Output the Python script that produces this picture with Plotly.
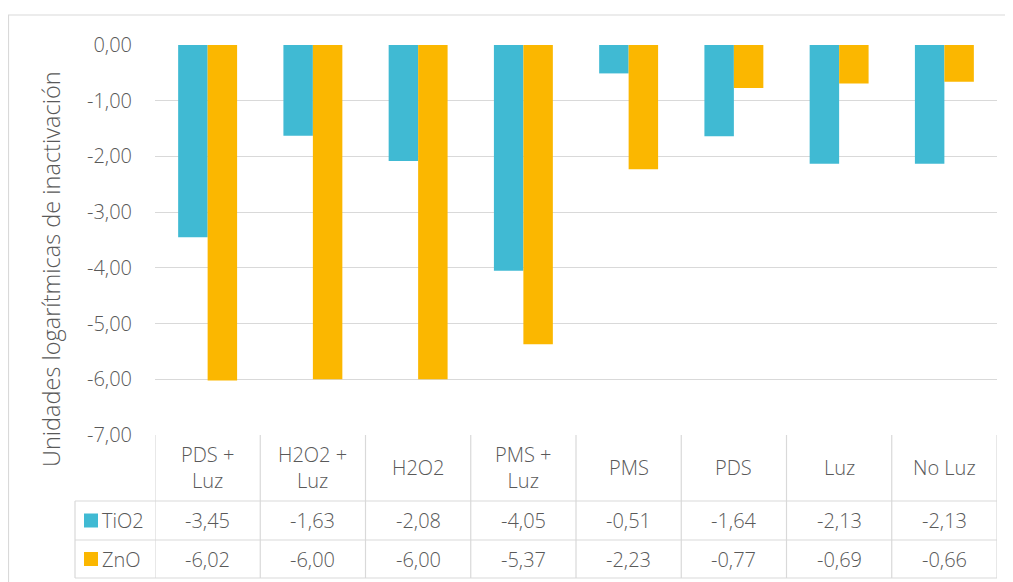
import plotly.graph_objects as go

categories = ["PDS + Luz", "H2O2 + Luz", "H2O2", "PMS + Luz", "PMS", "PDS", "Luz", "No Luz"]
header_labels = ["PDS +<br>Luz", "H2O2 +<br>Luz", "H2O2", "PMS +<br>Luz", "PMS", "PDS", "Luz", "No Luz"]
tio2 = [-3.45, -1.63, -2.08, -4.05, -0.51, -1.64, -2.13, -2.13]
zno = [-6.02, -6.00, -6.00, -5.37, -2.23, -0.77, -0.69, -0.66]
series_names = ["TiO2", "ZnO"]
series_colors = ["#40BAD3", "#FBB700"]
y_ticks = [0, -1, -2, -3, -4, -5, -6, -7]

# page body has an 8px margin, so figure coords = screen coords - 8
OFF = 8
W, H = 1013 - OFF, 582 - OFF
L = 155 - OFF
T = 45 - OFF
R = W - (997 - OFF)
B = H - (435 - OFF)
PW, PH = W - L - R, H - T - B

def px(x):
    return (x - OFF - L) / PW

def py(y):
    return (H - B - (y - OFF)) / PH

TXT = "#595959"
GRID = "#D9D9D9"
FONT = "Open Sans"
FS = 20

fig = go.Figure()
idx = list(range(len(categories)))
for name, vals, col in zip(series_names, [tio2, zno], series_colors):
    fig.add_trace(go.Bar(x=idx, y=vals, name=name, marker=dict(color=col, line=dict(width=0)),
                         hovertext=categories))

def fmt(v):
    return f"{v:.2f}".replace(".", ",")

def tfont(size=FS):
    return dict(family=FONT, size=size, color=TXT, weight=300)

shapes = []
annotations = []

# outer chart border
shapes.append(dict(type="rect", xref="paper", yref="paper", x0=px(8.5), x1=px(1030), y0=py(15), y1=py(600),
                   line=dict(color=GRID, width=1.2), layer="below"))

# horizontal table lines
for yy in [501, 540, 578]:
    shapes.append(dict(type="line", xref="paper", yref="paper", x0=px(75), x1=1, y0=py(yy), y1=py(yy),
                       line=dict(color=GRID, width=1.2)))
# vertical lines at category boundaries
for i in range(len(categories) + 1):
    shapes.append(dict(type="line", xref="x", yref="paper", x0=i - 0.5, x1=i - 0.5, y0=0, y1=py(578),
                       line=dict(color=GRID, width=1.2)))
shapes.append(dict(type="line", xref="paper", yref="paper", x0=px(75), x1=px(75), y0=py(501), y1=py(578),
                   line=dict(color=GRID, width=1.2)))

# header labels
for i, lab in enumerate(header_labels):
    annotations.append(dict(x=i, y=py(468), xref="x", yref="paper", text=lab, showarrow=False,
                            font=tfont(), xanchor="center", yanchor="middle"))
# rows
row_centers = [520.5, 559]
for r, (name, vals, col) in enumerate(zip(series_names, [tio2, zno], series_colors)):
    yc = row_centers[r]
    shapes.append(dict(type="rect", xref="paper", yref="paper", x0=px(84), x1=px(98), y0=py(yc - 7), y1=py(yc + 7),
                       fillcolor=col, line=dict(width=0)))
    annotations.append(dict(x=px(100), y=py(yc), xref="paper", yref="paper", text=name, showarrow=False,
                            font=tfont(), xanchor="left", yanchor="middle"))
    for i, v in enumerate(vals):
        annotations.append(dict(x=i, y=py(yc), xref="x", yref="paper", text=fmt(v), showarrow=False,
                                font=tfont(), xanchor="center", yanchor="middle"))

# y axis title
annotations.append(dict(x=px(51), y=py(269), xref="paper", yref="paper", text="Unidades logarítmicas de inactivación",
                        showarrow=False, textangle=-90, font=tfont(23.5),
                        xanchor="center", yanchor="middle"))

fig.update_layout(
    width=W, height=H,
    margin=dict(l=L, r=R, t=T, b=B),
    paper_bgcolor="white", plot_bgcolor="white",
    showlegend=False,
    barmode="group", bargap=0.44, bargroupgap=0,
    separators=", ",
    font=tfont(),
    shapes=shapes, annotations=annotations,
    xaxis=dict(range=[-0.5, len(categories) - 0.5], showticklabels=False, showgrid=False, zeroline=False,
               showline=False, ticks=""),
    yaxis=dict(range=[-7, 0], tickvals=y_ticks, ticktext=[fmt(v) for v in y_ticks],
               showgrid=True, gridcolor=GRID, gridwidth=1.2,
               zeroline=False, showline=False, ticks="", ticklabelstandoff=22,
               tickfont=tfont()),
)

fig.write_html("out.html")
